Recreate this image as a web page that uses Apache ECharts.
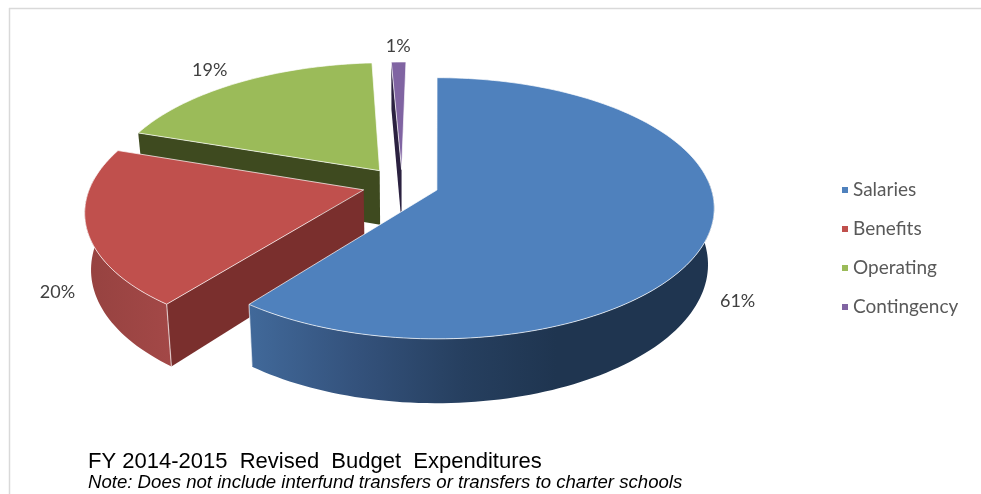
<!DOCTYPE html>
<html>
<head>
<meta charset="utf-8">
<style>
  html, body { margin: 0; padding: 0; background: #fff; }
  #chart { width: 981px; height: 494px; }
</style>
<script src="https://cdn.jsdelivr.net/npm/echarts@6/dist/echarts.min.js"></script>
</head>
<body>
<div id="chart"></div>
<script>
// Budget shares, in percent
const categories = ['Salaries', 'Benefits', 'Operating', 'Contingency'];
const shares = [61, 20, 19, 1];

// Slice colours: top face, cut face, and the outer wall's left/right shades
const topColors = ['#4f81bd', '#c0504d', '#9bbb59', '#8064a2'];
const cutColors = ['#1f3550', '#7a2f2d', '#3e4a1f', '#2b2140'];
const wallStops = [
  [[0, '#41699a'], [0.35, '#34527c'], [0.7, '#263f5f'], [1, '#1f3550']],
  [[0, '#964240'], [1, '#a34847']]
];

// How far each slice is pulled out, and where its percent label sits
const explode = [0.135, 0.145, 0.14, 0.12];
const labelReach = [1.125, 1.125, 1.23, 1.17];
const labelDrop = [1.08, 1, 0.1, 0];
const paintOrder = [2, 3, 1, 0];

// Tilted-disc projection: U runs right, V runs away from the viewer
const view = { cx: 402, cy: 184.5, a: 273, b: 126.5, p: 0.139, shear: 5, depth: 55, base: 0.98 };

function project(U, V, h) {
  const w = 1 + view.p * V;
  let x = view.cx + (view.a * U + view.shear * V) / w;
  let y = view.cy - view.b * V / w;
  if (h) {
    x = view.cx + (x - view.cx) * (1 + (view.base - 1) * h);
    y += h * view.depth / w;
  }
  return [x, y];
}

const total = shares.reduce((s, v) => s + v, 0);
const rad = d => d * Math.PI / 180;

function sliceGeometry(i) {
  const before = shares.slice(0, i).reduce((s, v) => s + v, 0);
  const start = before / total * 360;
  const end = (before + shares[i]) / total * 360;
  const mid = rad((start + end) / 2);
  return { start, end, mid, u0: explode[i] * Math.sin(mid), v0: explode[i] * Math.cos(mid) };
}

function rimPoint(g, deg, reach, h) {
  const t = rad(deg);
  return project(g.u0 + reach * Math.sin(t), g.v0 + reach * Math.cos(t), h);
}

function arcPoints(g, from, to, h) {
  const steps = Math.max(2, Math.ceil((to - from) / 1.5));
  const pts = [];
  for (let k = 0; k <= steps; k++) pts.push(rimPoint(g, from + (to - from) * k / steps, 1, h));
  return pts;
}

function renderSlice(params) {
  const i = params.seriesIndex;
  const idx = paintOrder[i];
  const g = sliceGeometry(idx);
  const apexTop = project(g.u0, g.v0, 0);
  const apexLow = project(g.u0, g.v0, 1);
  const children = [];

  // Cut faces, only those turned towards the viewer
  [[g.start, g.start - 90], [g.end, g.end + 90]].forEach(([deg, normal]) => {
    if (Math.cos(rad(normal)) < -0.01) {
      children.push({
        type: 'polygon',
        shape: { points: [apexTop, rimPoint(g, deg, 1, 0), rimPoint(g, deg, 1, 1), apexLow] },
        style: { fill: cutColors[idx] }
      });
    }
  });

  // Outer wall on the near half of the rim
  const from = Math.max(g.start, 85);
  const to = Math.min(g.end, 275);
  if (to > from && wallStops[idx]) {
    const upper = arcPoints(g, from, to, 0);
    const lower = arcPoints(g, from, to, 1);
    const xs = upper.concat(lower).map(p => p[0]);
    const x0 = Math.min.apply(null, xs);
    const x1 = idx === 0 ? x0 + (Math.max.apply(null, xs) - x0) * 0.66 : Math.max.apply(null, xs);
    children.push({
      type: 'polygon',
      shape: { points: upper.concat(lower.reverse()) },
      style: {
        fill: {
          type: 'linear', global: true, x: x0, y: 0, x2: x1, y2: 0,
          colorStops: wallStops[idx].map(s => ({ offset: s[0], color: s[1] }))
        }
      }
    });
    // Pale seam down the near corner of the wall
    const cornerDeg = idx === 0 ? g.end : g.start;
    children.push({
      type: 'line',
      shape: (() => {
        const a = rimPoint(g, cornerDeg, 1, 0), b = rimPoint(g, cornerDeg, 1, 1);
        return { x1: a[0], y1: a[1], x2: b[0], y2: b[1] };
      })(),
      style: { stroke: 'rgba(255,255,255,0.6)', lineWidth: 1.2, fill: null }
    });
  }

  // Top face with its bright rim
  children.push({
    type: 'polygon',
    shape: { points: [apexTop].concat(arcPoints(g, g.start, g.end, 0)) },
    style: { fill: topColors[idx], stroke: 'rgba(255,255,255,0.7)', lineWidth: 1, lineJoin: 'round' }
  });

  // Percent label just past the rim
  const t = g.mid;
  const lp = project(
    g.u0 + labelReach[idx] * Math.sin(t),
    g.v0 + labelReach[idx] * Math.cos(t),
    labelDrop[idx]
  );
  children.push({
    type: 'text',
    style: {
      x: lp[0], y: lp[1],
      text: shares[idx] + '%',
      fill: '#404040',
      font: '18px Lato',
      align: 'center',
      verticalAlign: 'middle'
    }
  });

  return { type: 'group', children };
}

const chart = echarts.init(document.getElementById('chart'), null, { renderer: 'canvas' });
chart.setOption({
  animation: false,
  backgroundColor: '#ffffff',
  title: {
    text: 'FY 2014-2015  Revised  Budget  Expenditures',
    subtext: 'Note: Does not include interfund transfers or transfers to charter schools',
    left: 88,
    top: 450,
    padding: 0,
    itemGap: 0,
    textStyle: { fontFamily: 'Liberation Sans', fontSize: 22, fontWeight: 'normal', color: '#000000', lineHeight: 24 },
    subtextStyle: { fontFamily: 'Liberation Sans', fontSize: 18.6, fontStyle: 'italic', color: '#000000', lineHeight: 18 }
  },
  legend: {
    orient: 'vertical',
    left: 842,
    top: 180,
    padding: 0,
    itemWidth: 6,
    itemHeight: 6,
    itemGap: 19,
    icon: 'rect',
    selectedMode: false,
    data: categories,
    textStyle: { fontFamily: 'Lato', fontSize: 19, color: '#595959', lineHeight: 20 }
  },
  graphic: [
    { type: 'line', silent: true, shape: { x1: 9, y1: 8.5, x2: 981, y2: 8.5 }, style: { stroke: '#d9d9d9', lineWidth: 1.5 } },
    { type: 'line', silent: true, shape: { x1: 9.5, y1: 8, x2: 9.5, y2: 494 }, style: { stroke: '#d9d9d9', lineWidth: 1.5 } }
  ],
  series: paintOrder.map((idx, order) => ({
    type: 'custom',
    name: categories[idx],
    coordinateSystem: 'none',
    silent: true,
    z: 2 + order,
    itemStyle: { color: topColors[idx] },
    data: [[shares[idx]]],
    renderItem: renderSlice
  }))
});
</script>
</body>
</html>
